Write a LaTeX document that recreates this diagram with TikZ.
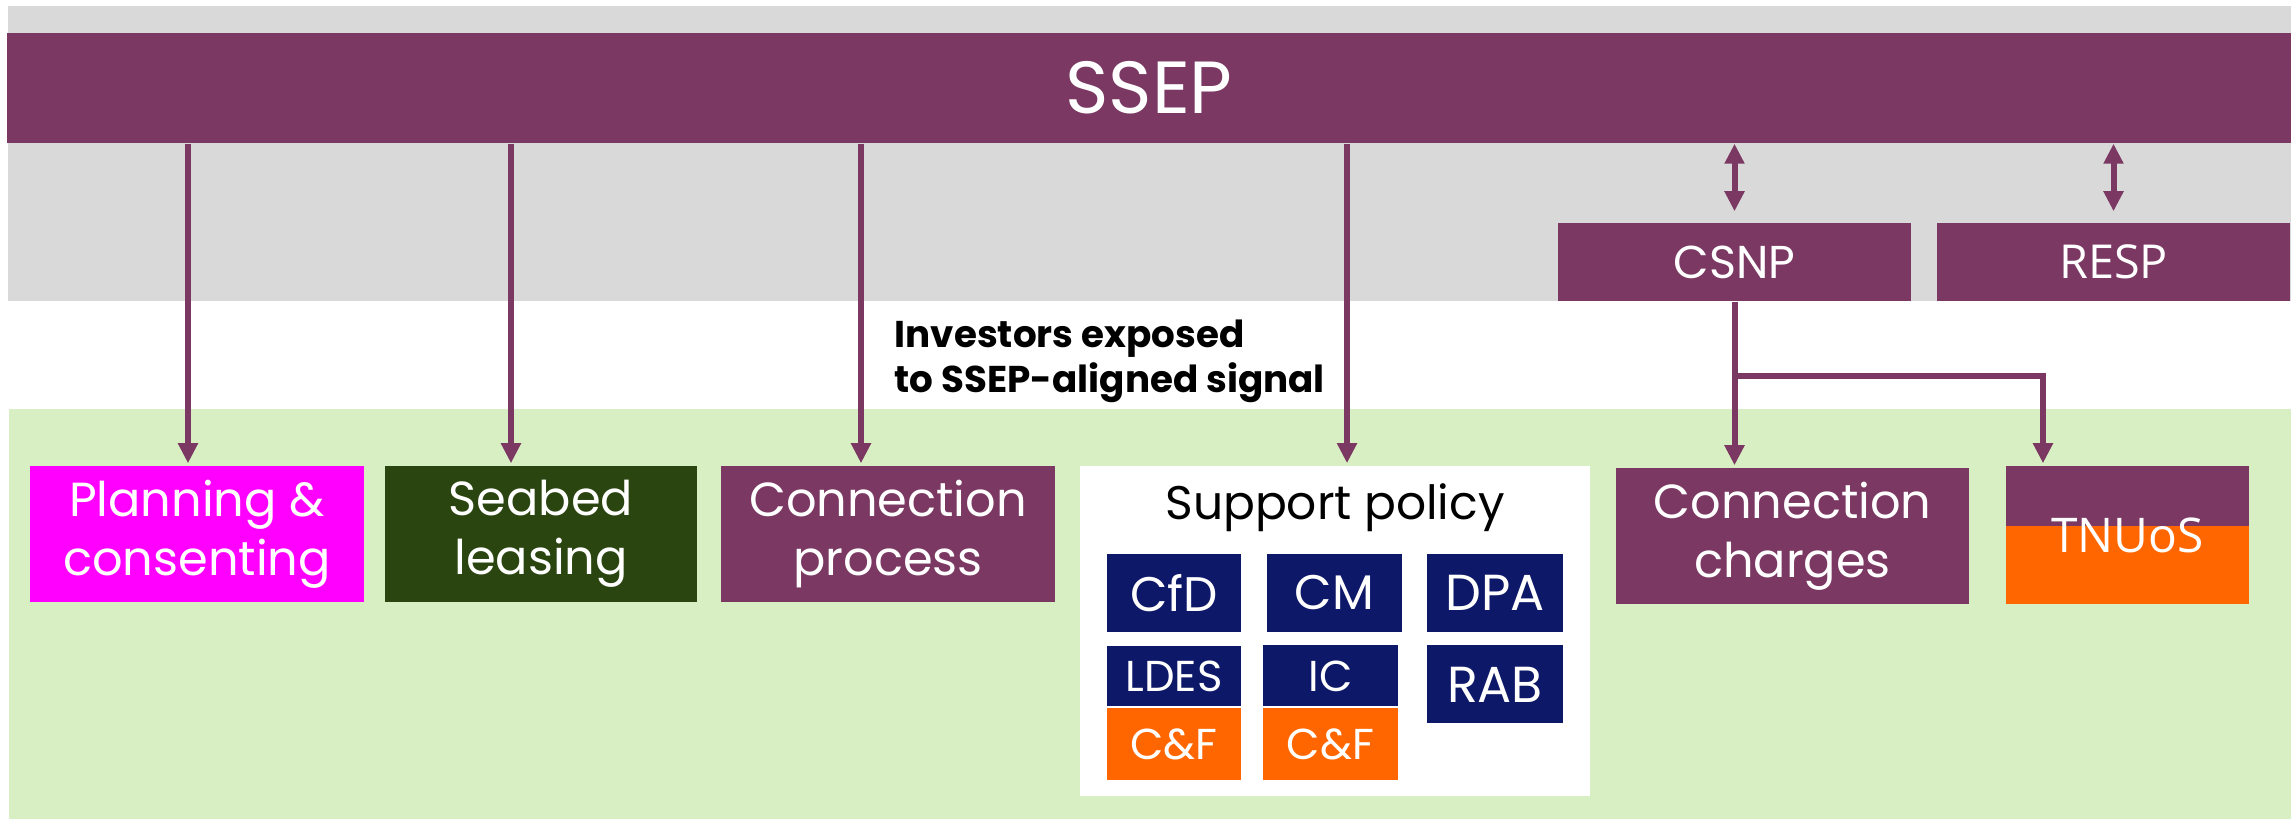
\documentclass[tikz,border=0pt]{standalone}
\usepackage{fontspec}
\setmainfont{Poppins}
\newfontfamily\plainsans{Open Sans}
\usetikzlibrary{arrows.meta,calc,positioning}
\definecolor{ssep}{RGB}{122,56,98}
\definecolor{bandgray}{RGB}{217,217,217}
\definecolor{bandgreen}{RGB}{216,239,195}
\definecolor{plan}{RGB}{255,0,255}
\definecolor{seabed}{RGB}{42,69,16}
\definecolor{polnavy}{RGB}{14,24,104}
\definecolor{cf}{RGB}{255,102,0}

\begin{document}
\begin{tikzpicture}[
      x=0.01cm,y=-0.01cm,
      box/.style={inner sep=0,text=white,align=center,minimum height=1.36cm,
        font=\fontsize{13.6}{16.8}\selectfont},
      pol/.style={inner sep=0,fill=polnavy,text=white,minimum width=1.34cm,
        minimum height=0.78cm,font=\fontsize{13.8}{15}\selectfont},
      small/.style={font=\fontsize{12.3}{14}\selectfont},
      feed/.style={draw=ssep,line width=1.7pt,shorten >=0.02cm,
        -{Triangle[length=0.2cm,width=0.19cm]}},
      both/.style={feed,shorten >=0.11cm,
        {Triangle[length=0.2cm,width=0.19cm]}-{Triangle[length=0.2cm,width=0.19cm]}},
    ]
    \useasboundingbox (0,0) rectangle (2295,819);
    \fill[bandgray] (8,6) rectangle (2291,301);
    \fill[bandgreen] (9,409) rectangle (2291,819);
    %
    \node (ssep) [fill=ssep,inner sep=0,minimum width=22.82cm,minimum height=1.1cm,
      text=white,font=\fontsize{21}{25}\selectfont] at (1149,88) {SSEP};
    \node (csnp) [box,fill=ssep,minimum width=3.53cm,minimum height=0.78cm,
      font=\fontsize{13.1}{15}\selectfont] at (1734.5,262) {CSNP};
    \node (resp) [box,fill=ssep,minimum width=3.53cm,minimum height=0.78cm,
      font=\plainsans\fontsize{13.3}{15}\selectfont] at (2113.5,262) {RESP};
    %
    \node (plan) [box,fill=plan,minimum width=3.34cm] at (197,534) {Planning \&\\consenting};
    \node (seabed) [box,fill=seabed,minimum width=3.12cm] at (541,534) {Seabed\\leasing};
    \node (connproc) [box,fill=ssep,minimum width=3.34cm] at (888,534) {Connection\\process};
    \node (support) [fill=white,inner sep=0,minimum width=5.1cm,minimum height=3.3cm] at (1335,631) {};
    \node (charges) [box,fill=ssep,minimum width=3.53cm] at (1792.5,536) {Connection\\charges};
    \node (tnuos) [box,fill=cf,minimum width=2.43cm,minimum height=1.38cm,
      font=\plainsans\fontsize{13.6}{16}\selectfont,
      path picture={\fill[ssep] (path picture bounding box.north west)
        rectangle ([yshift=-0.6cm]path picture bounding box.north east);}]
      at (2127.5,535) {TNUoS};
    %
    \node (suptitle) [anchor=base,inner sep=0,font=\fontsize{13.4}{15}\selectfont] at (1335,520) {Support policy};
    \node (cfd) [pol] at (1174,593) {CfD};
    \node (cm) [pol,right=0.25cm of cfd] {CM};
    \node (dpa) [pol,right=0.24cm of cm,minimum width=1.36cm,font=\fontsize{14.4}{15}\selectfont] {DPA};
    \node (ldes) [pol,small,below=0.13cm of cfd,minimum height=0.6cm] {LDES};
    \node (cf1) [pol,small,fill=cf,below=0 of ldes,minimum height=0.72cm] {C\&F};
    \node (ic) [pol,small,below=0.12cm of cm,xshift=-0.04cm,minimum height=0.61cm] {IC};
    \node (cf2) [pol,small,fill=cf,below=0 of ic,minimum height=0.72cm] {C\&F};
    \node (rab) [pol,below=0.12cm of dpa,minimum width=1.36cm,font=\fontsize{14.4}{15}\selectfont] {RAB};
    %
    \node (inv) [anchor=north west,inner sep=0,align=left,
      font=\bfseries\fontsize{10.6}{12.8}\selectfont] at (894,319)
      {Investors exposed\\to SSEP-aligned signal};
    %
    \coordinate (pin) at ([xshift=-0.09cm]plan.north);
    \coordinate (sin) at ([xshift=-0.30cm]seabed.north);
    \coordinate (cin) at ([xshift=-0.27cm]connproc.north);
    \coordinate (spin) at ([xshift=0.12cm]support.north);
    \coordinate (tin) at ([xshift=-0.845cm]tnuos.north);
    \coordinate (split) at ([yshift=-0.74cm]csnp.south);
    %
    \draw[feed] (ssep.south -| pin) -- (pin);
    \draw[feed] (ssep.south -| sin) -- (sin);
    \draw[feed] (ssep.south -| cin) -- (cin);
    \draw[feed] (ssep.south -| spin) -- (spin);
    \draw[both] (ssep.south -| csnp) -- (csnp.north);
    \draw[both] (ssep.south -| resp) -- (resp.north);
    \draw[feed] (csnp.south) -- (csnp.south |- charges.north);
    \draw[feed] (split) -| (tin);
  \end{tikzpicture}
\end{document}
